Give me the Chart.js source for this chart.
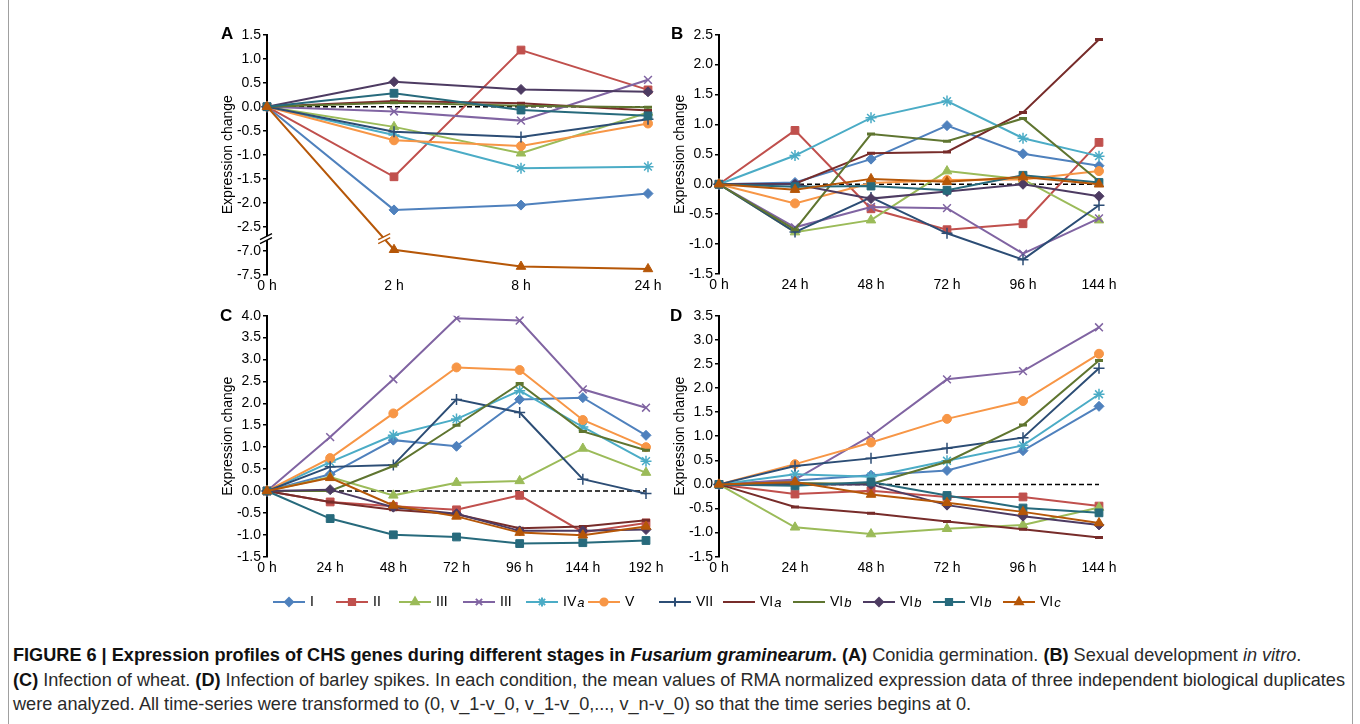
<!DOCTYPE html>
<html>
<head>
<meta charset="utf-8">
<script src="https://cdn.jsdelivr.net/npm/chart.js@4.4.1/dist/chart.umd.min.js"></script>
<style>
  html, body { margin: 0; padding: 0; background: #fff; }
  #page { position: relative; width: 1360px; height: 724px; overflow: hidden; background: #fff;
          font-family: "Liberation Sans", Arial, sans-serif; }
  canvas { position: absolute; }
  .letter { position: absolute; font-weight: bold; font-size: 17px; line-height: 17px; color: #000; }
  .frame { position: absolute; background: #a0a0a0; }
  .cap { position: absolute; left: 13px; white-space: nowrap; color: #2a2a2a; font-size: 15px; line-height: 18px; }
  .cap b { color: #111; }
</style>
</head>
<body>
<div id="page">
  <div class="frame" style="left:8px; top:0; width:1px; height:724px"></div>
  <div class="frame" style="left:1352px; top:0; width:1px; height:724px"></div>

  <canvas id="chartA" width="465" height="280" style="left:205px; top:20px"></canvas>
  <canvas id="chartB" width="465" height="280" style="left:657px; top:20px"></canvas>
  <canvas id="chartC" width="465" height="282" style="left:205px; top:301px"></canvas>
  <canvas id="chartD" width="465" height="282" style="left:657px; top:301px"></canvas>
  <canvas id="legend" width="860" height="30" style="left:260px; top:588px"></canvas>

  <div class="letter" style="left:221px; top:25px">A</div>
  <div class="letter" style="left:671px; top:25px">B</div>
  <div class="letter" style="left:220px; top:307px">C</div>
  <div class="letter" style="left:670px; top:307px">D</div>

  <div class="cap" id="cap1" style="top:646px"><b>FIGURE 6 | Expression profiles of CHS genes during different stages in <i>Fusarium graminearum</i>. (A)</b> Conidia germination. <b>(B)</b> Sexual development <i>in vitro</i>.</div>
  <div class="cap" id="cap2" style="top:671px"><b>(C)</b> Infection of wheat. <b>(D)</b> Infection of barley spikes. In each condition, the mean values of RMA normalized expression data of three independent biological duplicates</div>
  <div class="cap" id="cap3" style="top:695px">were analyzed. All time-series were transformed to (0, v_1-v_0, v_1-v_0,..., v_n-v_0) so that the time series begins at 0.</div>
</div>

<script>
// series (same order in every panel)
const seriesNames  = ['I', 'II', 'III', 'III', 'IV', 'V', 'VII', 'VI', 'VI', 'VI', 'VI', 'VI'];
const seriesSuffix = ['', '', '', '', 'a', '', '', 'a', 'b', 'b', 'b', 'c'];

// time points
const hoursA = ['0 h', '2 h', '8 h', '24 h'];
const hoursB = ['0 h', '24 h', '48 h', '72 h', '96 h', '144 h'];
const hoursC = ['0 h', '24 h', '48 h', '72 h', '96 h', '144 h', '192 h'];
const hoursD = ['0 h', '24 h', '48 h', '72 h', '96 h', '144 h'];

// (A) Conidia germination
const valuesA = [
  [0, -2.15, -2.05, -1.81],   // I
  [0, -1.46,  1.18,  0.35],   // II
  [0, -0.42, -0.97, -0.12],   // III
  [0, -0.10, -0.29,  0.56],   // III
  [0, -0.59, -1.28, -1.25],   // IVa
  [0, -0.70, -0.82, -0.35],   // V
  [0, -0.52, -0.63, -0.26],   // VII
  [0,  0.12,  0.07, -0.08],   // VIa
  [0,  0.08,  0.02, -0.01],   // VIb
  [0,  0.52,  0.36,  0.31],   // VIb
  [0,  0.28, -0.07, -0.19],   // VIb
  [0, -6.98, -7.33, -7.38]    // VIc
];

// (B) Sexual development in vitro
const valuesB = [
  [0,  0.03,  0.42,  0.98,  0.51,  0.31],
  [0,  0.90, -0.41, -0.76, -0.66,  0.70],
  [0, -0.80, -0.60,  0.22,  0.08, -0.60],
  [0, -0.72, -0.38, -0.40, -1.16, -0.57],
  [0,  0.48,  1.11,  1.39,  0.77,  0.47],
  [0, -0.32,  0.02,  0.07,  0.08,  0.22],
  [0, -0.80, -0.22, -0.82, -1.26, -0.35],
  [0,  0.01,  0.52,  0.54,  1.20,  2.42],
  [0, -0.76,  0.84,  0.72,  1.10,  0.05],
  [0,  0.00, -0.24, -0.12,  0.00, -0.20],
  [0, -0.04, -0.03, -0.10,  0.15,  0.03],
  [0, -0.09,  0.09,  0.04,  0.12,  0.00]
];

// (C) Infection of wheat
const valuesC = [
  [0,  0.38,  1.16,  1.02,  2.09,  2.13,  1.27],
  [0, -0.25, -0.35, -0.43, -0.10, -0.94, -0.73],
  [0,  0.32, -0.10,  0.19,  0.23,  0.97,  0.42],
  [0,  1.23,  2.55,  3.94,  3.89,  2.32,  1.90],
  [0,  0.66,  1.27,  1.64,  2.29,  1.46,  0.68],
  [0,  0.75,  1.77,  2.82,  2.76,  1.62,  1.00],
  [0,  0.55,  0.59,  2.09,  1.79,  0.27, -0.06],
  [0, -0.25, -0.43, -0.53, -0.85, -0.81, -0.67],
  [0,  0.00,  0.57,  1.50,  2.45,  1.36,  0.93],
  [0,  0.03, -0.37, -0.52, -0.91, -0.91, -0.88],
  [0, -0.63, -1.00, -1.05, -1.20, -1.18, -1.13],
  [0,  0.30, -0.33, -0.58, -0.95, -1.01, -0.81]
];

// (D) Infection of barley spikes
const valuesD = [
  [0,  0.08,  0.19,  0.29,  0.70,  1.62],
  [0, -0.20, -0.13, -0.26, -0.26, -0.45],
  [0, -0.89, -1.03, -0.92, -0.84, -0.48],
  [0,  0.10,  1.01,  2.18,  2.35,  3.26],
  [0,  0.21,  0.16,  0.49,  0.81,  1.87],
  [0,  0.42,  0.87,  1.36,  1.73,  2.71],
  [0,  0.38,  0.54,  0.75,  0.97,  2.41],
  [0, -0.47, -0.60, -0.77, -0.93, -1.10],
  [0,  0.03,  0.01,  0.47,  1.23,  2.57],
  [0,  0.00,  0.00, -0.43, -0.66, -0.84],
  [0, -0.03,  0.05, -0.23, -0.49, -0.59],
  [0,  0.05, -0.21, -0.38, -0.57, -0.80]
];

// y axis ranges
const rangeA = [-7.5, 1.5];
const rangeB = [-1.5, 2.5];
const rangeC = [-1.5, 4.0];
const rangeD = [-1.5, 3.5];
// panel A skips from -2.5 straight to -7.0
const breakA = [-2.5, -7.0];

// styling (Excel 2010 palette)
const seriesColors = ['#4F81BD', '#C0504D', '#9BBB59', '#8064A2', '#4BACC6', '#F79646',
                      '#2C4D75', '#772C2A', '#5F7530', '#4D3B62', '#276A7C', '#B65708'];
const seriesMarkers = ['rectRot', 'rect', 'triangle', 'crossRot', 'star', 'circle',
                       'cross', 'line', 'line', 'rectRot', 'rect', 'triangle'];
const markerRadius = { rectRot: 5, rect: 5.5, triangle: 5.5, crossRot: 5.5, star: 5.5, circle: 4.5, cross: 5.5, line: 4 };
const markerBorder = { rectRot: 1, rect: 1, triangle: 1, crossRot: 1.5, star: 1.5, circle: 1, cross: 1.5, line: 3 };

Chart.defaults.font.family = '"Liberation Sans", Arial, sans-serif';
Chart.defaults.color = '#000';

// dashed black line at zero
const zeroLine = {
  id: 'zeroLine',
  beforeDatasetsDraw(chart) {
    const { ctx, chartArea, scales } = chart;
    const y = scales.y.getPixelForValue(0);
    ctx.save();
    ctx.strokeStyle = '#000';
    ctx.lineWidth = 1.5;
    ctx.setLineDash([5, 3]);
    ctx.beginPath();
    ctx.moveTo(chartArea.left, y);
    ctx.lineTo(chartArea.right, y);
    ctx.stroke();
    ctx.restore();
  }
};

// compressed axis for panel A: everything below the break is shifted up
const shiftA = (breakA[0] - 0.5) - breakA[1];
function mapA(v) { return v < breakA[0] - 0.25 ? v + shiftA : v; }
function tickA(v) { return (v < breakA[0] - 0.25 ? v - shiftA : v).toFixed(1); }

// "//" marks on the axis and on the VIc line
const breakMarks = {
  id: 'breakMarks',
  afterDatasetsDraw(chart) {
    const { ctx, chartArea, scales } = chart;
    const yb = scales.y.getPixelForValue(breakA[0] - 0.25);
    function slashes(x, y, color) {
      ctx.save();
      ctx.fillStyle = '#fff';
      ctx.beginPath();
      ctx.moveTo(x - 6, y + 1); ctx.lineTo(x + 6, y - 5); ctx.lineTo(x + 6, y - 1); ctx.lineTo(x - 6, y + 5);
      ctx.closePath();
      ctx.fill();
      ctx.strokeStyle = color;
      ctx.lineWidth = 1.3;
      ctx.beginPath();
      ctx.moveTo(x - 6, y + 1); ctx.lineTo(x + 6, y - 5);
      ctx.moveTo(x - 6, y + 5); ctx.lineTo(x + 6, y - 1);
      ctx.stroke();
      ctx.restore();
    }
    slashes(chartArea.left - 1, yb, '#000');
    const meta = chart.getDatasetMeta(11);
    const p0 = meta.data[0], p1 = meta.data[1];
    const t = (yb - p0.y) / (p1.y - p0.y);
    slashes(p0.x + t * (p1.x - p0.x), yb, seriesColors[11]);
  }
};

function buildChart(id, hours, values, range, box, map, tick, extra) {
  const datasets = values.map((row, i) => {
    const m = seriesMarkers[i];
    return {
      label: seriesNames[i] + seriesSuffix[i],
      data: row.map(map),
      borderColor: seriesColors[i],
      backgroundColor: seriesColors[i],
      pointBackgroundColor: seriesColors[i],
      pointBorderColor: seriesColors[i],
      pointStyle: m,
      pointRadius: markerRadius[m],
      pointBorderWidth: markerBorder[m],
      borderWidth: 2,
      tension: 0,
      fill: false,
      order: values.length - i   // later series on top, like Excel
    };
  });
  return new Chart(document.getElementById(id), {
    type: 'line',
    data: { labels: hours, datasets: datasets },
    options: {
      responsive: false,
      animation: false,
      layout: { padding: { left: 0, top: box.top, right: box.right, bottom: 0 } },
      plugins: { legend: { display: false }, tooltip: { enabled: false } },
      scales: {
        x: {
          offset: false,
          grid: { display: false, drawTicks: false },
          border: { display: false },
          ticks: { padding: 3, maxRotation: 0, autoSkip: false, font: { size: 14 } },
          afterFit: s => { s.height = box.bottom; }
        },
        y: {
          min: map(range[0]),
          max: range[1],
          grid: { drawOnChartArea: false, drawTicks: true, tickLength: 4, color: '#000', lineWidth: 1.5 },
          border: { display: true, color: '#000', width: 2 },
          ticks: { stepSize: 0.5, padding: 2, font: { size: 14 }, callback: tick },
          title: { display: true, text: 'Expression change', font: { size: 14 }, padding: { top: 15, bottom: 0 } },
          afterFit: s => { s.width = box.left; }
        }
      }
    },
    plugins: [zeroLine].concat(extra)
  });
}

const same = v => v;
const fixed = v => Number(v).toFixed(1);

buildChart('chartA', hoursA, valuesA, rangeA, { left: 62, top: 14.7, right: 22, bottom: 25.3 }, mapA, tickA, [breakMarks]);
buildChart('chartB', hoursB, valuesB, rangeB, { left: 62, top: 14.7, right: 23, bottom: 26 }, same, fixed, []);
buildChart('chartC', hoursC, valuesC, rangeC, { left: 62, top: 14.7, right: 24, bottom: 26.3 }, same, fixed, []);
buildChart('chartD', hoursD, valuesD, rangeD, { left: 62, top: 14.7, right: 23, bottom: 26.3 }, same, fixed, []);

// legend row under the panels
(function drawLegend() {
  const ctx = document.getElementById('legend').getContext('2d');
  const xs = [13, 76, 139, 203, 266, 328, 399, 463, 533, 603, 673, 743];
  const y = 14;
  seriesNames.forEach((name, i) => {
    const x = xs[i];
    const m = seriesMarkers[i];
    ctx.strokeStyle = seriesColors[i];
    ctx.fillStyle = seriesColors[i];
    ctx.lineWidth = 2;
    ctx.beginPath();
    ctx.moveTo(x, y);
    ctx.lineTo(x + 32, y);
    ctx.stroke();
    if (Chart.helpers && Chart.helpers.drawPoint) {
      Chart.helpers.drawPoint(ctx, { pointStyle: m, radius: markerRadius[m] * 0.8, rotation: 0, borderWidth: markerBorder[m] }, x + 16, y);
    }
    ctx.fillStyle = '#000';
    ctx.textBaseline = 'middle';
    ctx.font = '14px "Liberation Sans", Arial, sans-serif';
    ctx.fillText(name, x + 37, y);
    if (seriesSuffix[i]) {
      const w = ctx.measureText(name).width;
      ctx.font = 'italic 13px "Liberation Sans", Arial, sans-serif';
      ctx.fillText(seriesSuffix[i], x + 37 + w + 1, y + 1);
    }
  });
})();

// stretch the caption font so the long line spans the same width as the figure
(function fitCaption() {
  const target = 1333;
  const line = document.getElementById('cap2');
  const size = 15 * target / line.offsetWidth;
  ['cap1', 'cap2', 'cap3'].forEach(id => { document.getElementById(id).style.fontSize = size + 'px'; });
})();
</script>
</body>
</html>
